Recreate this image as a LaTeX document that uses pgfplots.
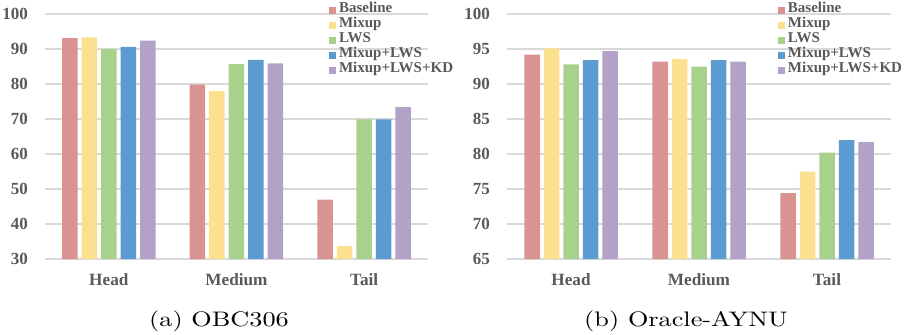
\documentclass[border=0pt]{standalone}
\usepackage{pgfplots}
\pgfplotsset{compat=1.18}
\usepackage{fontspec}
\newfontfamily\chartfont{Liberation Serif}
\definecolor{cBase}{HTML}{D99391}
\definecolor{cMix}{HTML}{FBE18F}
\definecolor{cLWS}{HTML}{A9D18E}
\definecolor{cMLWS}{HTML}{5B9BD2}
\definecolor{cKD}{HTML}{B3A2C8}
\definecolor{labgray}{HTML}{595959}
\definecolor{gridgray}{HTML}{D9D9D9}
\pgfplotsset{
  mybars/.style={
    scale only axis,
    anchor=south west,
    height=122.5pt,
    ybar=2pt,
    bar width=7.75pt,
    xmin=-0.5, xmax=2.5,
    xtick={0,1,2},
    xticklabels={Head,Medium,Tail},
    axis line style={draw=none},
    major tick length=0pt,
    ymajorgrids,
    grid style={color=gridgray, line width=0.7pt},
    /pgf/number format/assume math mode=true,
    yticklabel style={font=\chartfont\bfseries\fontsize{8.5}{10}\selectfont, text=labgray, xshift=-5pt},
    xticklabel style={font=\chartfont\bfseries\fontsize{8.6}{10}\selectfont, text=labgray, yshift=-3.5pt},
    legend image code/.code={\fill[##1,draw=none] (0pt,-1.75pt) rectangle (3.6pt,1.75pt);},
    legend cell align=left,
    legend style={draw=none, fill=none, anchor=north west, inner sep=0pt, outer sep=0pt,
      column sep=1.5pt, row sep=0pt,
      font=\chartfont\bfseries\fontsize{7.5}{8}\selectfont, text=labgray,
      nodes={inner sep=0pt, text height=5.1pt, text depth=2.4pt}},
  }
}
\begin{document}
\begin{tikzpicture}
\path[use as bounding box] (0,0) rectangle (452.5pt,167pt);
\begin{axis}[mybars, at={(22.5pt,37.5pt)}, width=191.5pt,
  ymin=30, ymax=100, ytick={30,40,...,100},
  legend style={at={(0.741,1.046)}}]
\addplot[fill=cBase, draw=none] coordinates {(0,93.1) (1,79.8) (2,47.0)};
\addplot[fill=cMix, draw=none] coordinates {(0,93.3) (1,78.0) (2,33.7)};
\addplot[fill=cLWS, draw=none] coordinates {(0,90.0) (1,85.7) (2,69.9)};
\addplot[fill=cMLWS, draw=none] coordinates {(0,90.6) (1,86.9) (2,69.9)};
\addplot[fill=cKD, draw=none] coordinates {(0,92.4) (1,85.9) (2,73.4)};
\legend{Baseline,Mixup,LWS,Mixup+LWS,Mixup+LWS+KD}
\end{axis}
\begin{axis}[mybars, at={(253.5pt,37.5pt)}, width=192pt,
  ymin=65, ymax=100, ytick={65,70,...,100},
  legend style={at={(0.705,1.046)}}]
\addplot[fill=cBase, draw=none] coordinates {(0,94.2) (1,93.2) (2,74.4)};
\addplot[fill=cMix, draw=none] coordinates {(0,95.1) (1,93.6) (2,77.5)};
\addplot[fill=cLWS, draw=none] coordinates {(0,92.8) (1,92.5) (2,80.2)};
\addplot[fill=cMLWS, draw=none] coordinates {(0,93.4) (1,93.4) (2,82.0)};
\addplot[fill=cKD, draw=none] coordinates {(0,94.7) (1,93.2) (2,81.7)};
\legend{Baseline,Mixup,LWS,Mixup+LWS,Mixup+LWS+KD}
\end{axis}
\node[anchor=base, font=\fontsize{10.5}{12}\selectfont] at (109.5pt,4pt) {\scalebox{1.25}[1]{(a) OBC306}};
\node[anchor=base, font=\fontsize{10.5}{12}\selectfont] at (343pt,4pt) {\scalebox{1.25}[1]{(b) Oracle-AYNU}};
\end{tikzpicture}
\end{document}
